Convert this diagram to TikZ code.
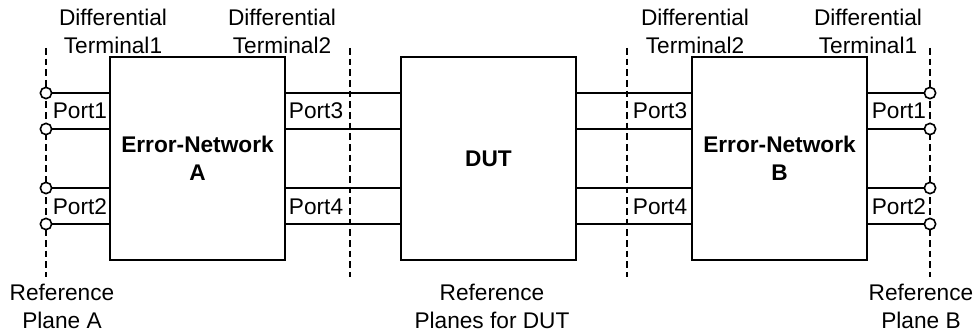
\documentclass[tikz,border=0pt]{standalone}
\usepackage{fontspec}
\setmainfont{Liberation Sans}
\begin{document}
\begin{tikzpicture}[x=0.75pt,y=-0.75pt, line width=1.3pt,
 box/.style={draw, line width=1.3pt, minimum width=131.25pt, minimum height=152.25pt, inner sep=0pt, align=center, font=\fontsize{17}{21}\selectfont\bfseries},
 lbl/.style={font=\fontsize{17}{21}\selectfont, align=center, inner sep=0pt},
 refline/.style={dash pattern=on 5pt off 3pt, line width=1.1pt},
 term/.style={circle, draw, fill=white, minimum size=8.5pt, inner sep=0pt, line width=1.2pt}]
\useasboundingbox (0,0) rectangle (977,335);

% boxes
\node[box] (A) at (197.5,158.5) {Error-Network\\A};
\node[box] (D) at (488.5,158.5) {DUT};
\node[box] (B) at (779.5,158.5) {Error-Network\\B};

% reference planes
\coordinate (rAt) at (46,48);  \coordinate (rAb) at (46,277);
\coordinate (r2t) at (350,48); \coordinate (r2b) at (350,277);
\coordinate (r3t) at (627,48); \coordinate (r3b) at (627,277);
\coordinate (rBt) at (930,48); \coordinate (rBb) at (930,277);
\draw[refline] (rAt) -- (rAb);
\draw[refline] (r2t) -- (r2b);
\draw[refline] (r3t) -- (r3b);
\draw[refline] (rBt) -- (rBb);

% terminal coordinates
\foreach \i/\y in {1/93,2/129,3/188,4/224}{
  \coordinate (tA\i) at (46,\y);
  \coordinate (tB\i) at (930,\y);
  \draw (tA\i) -- (A.west |- tA\i);
  \draw (A.east |- tA\i) -- (D.west |- tA\i);
  \draw (D.east |- tA\i) -- (B.west |- tA\i);
  \draw (B.east |- tB\i) -- (tB\i);
  \node[term] (cA\i) at (tA\i) {};
  \node[term] (cB\i) at (tB\i) {};
}

% port labels
\node[lbl, anchor=west] (pA1) at (52,111) {Port1};
\node[lbl, anchor=west] (pA2) at (52,207) {Port2};
\node[lbl, anchor=east] (pA3) at (344,111) {Port3};
\node[lbl, anchor=east] (pA4) at (344,207) {Port4};
\node[lbl, anchor=east] (pB3) at (688,111) {Port3};
\node[lbl, anchor=east] (pB4) at (688,207) {Port4};
\node[lbl, anchor=west] (pB1) at (871,111) {Port1};
\node[lbl, anchor=west] (pB2) at (871,207) {Port2};

% terminal labels
\node[lbl] (dA1) at (113,31) {Differential\\Terminal1};
\node[lbl] (dA2) at (282,31) {Differential\\Terminal2};
\node[lbl] (dB2) at (695,31) {Differential\\Terminal2};
\node[lbl] (dB1) at (868,31) {Differential\\Terminal1};

% reference plane labels
\node[lbl] (lA) at (62,306) {Reference\\Plane A};
\node[lbl] (lD) at (492,306) {Reference\\Planes for DUT};
\node[lbl] (lB) at (921,306) {Reference\\Plane B};
\end{tikzpicture}
\end{document}
